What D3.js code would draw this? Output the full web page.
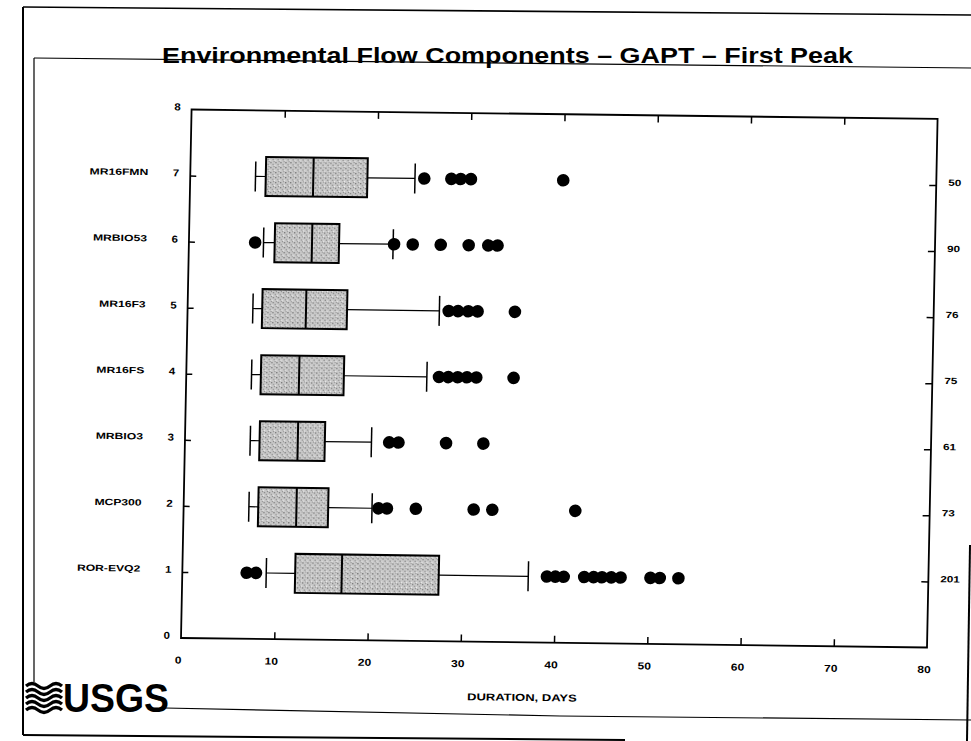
<!DOCTYPE html>
<html>
<head>
<meta charset="utf-8">
<script src="https://cdn.jsdelivr.net/npm/d3@7"></script>
<style>
  html, body { margin: 0; padding: 0; background: #fff; }
  svg { display: block; }
  text { font-family: "Liberation Sans", Arial, Helvetica, sans-serif; fill: #000; }
</style>
</head>
<body>
<svg id="chart" width="971" height="741"></svg>
<script>
// ---------------- data ----------------
const categories = ["ROR-EVQ2", "MCP300", "MRBIO3", "MR16FS", "MR16F3", "MRBIO53", "MR16FMN"];
const counts     = [201, 73, 61, 75, 76, 90, 50];
const whiskerLow = [9, 7, 7, 7, 7, 8, 7];
const q1         = [12.1, 8, 8, 8, 8, 9.2, 8.1];
const medians    = [17.1, 12.1, 12.1, 12.1, 12.7, 13.2, 13.2];
const q3         = [27.5, 15.5, 15, 16.9, 17.1, 16.1, 19];
const whiskerHigh= [37.1, 20.2, 20, 25.8, 27, 21.9, 24.1];
const outliers = [
  [6.9, 7.9, 39.1, 40, 40.9, 43.1, 44.1, 45, 46, 47, 50.2, 51.2, 53.2],
  [20.9, 21.8, 24.9, 31.1, 33.1, 42],
  [21.9, 22.9, 28, 32],
  [27.1, 28.1, 29.1, 30.1, 31.1, 35.1],
  [28, 29, 30.1, 31.1, 35.1],
  [7.1, 22, 24, 27, 30, 32.1, 33.1],
  [25.1, 28, 29, 30.1, 40]
];
const xTickValues = [0, 10, 20, 30, 40, 50, 60, 70, 80];
const yTickValues = [0, 1, 2, 3, 4, 5, 6, 7, 8];
const titleText = "Environmental Flow Components \u2013 GAPT \u2013 First Peak";
const xAxisTitle = "DURATION, DAYS";

// ---------------- drawing ----------------
const svg = d3.select("#chart");
const defs = svg.append("defs");
const pat = defs.append("pattern").attr("id", "stipple")
  .attr("patternUnits", "userSpaceOnUse").attr("width", 5).attr("height", 5);
pat.append("rect").attr("width", 5).attr("height", 5).attr("fill", "#c9c9c9");
pat.append("rect").attr("x", 1).attr("y", 1).attr("width", 1).attr("height", 1).attr("fill", "#444");
pat.append("rect").attr("x", 3).attr("y", 3).attr("width", 1).attr("height", 1).attr("fill", "#6a6a6a");
pat.append("rect").attr("x", 4).attr("y", 0).attr("width", 1).attr("height", 1).attr("fill", "#8a8a8a");
pat.append("rect").attr("x", 0).attr("y", 4).attr("width", 1).attr("height", 1).attr("fill", "#eeeeee");

// page frame lines (scanned slide)
const frame = svg.append("g").attr("fill", "none").attr("stroke", "#000");
frame.append("path").attr("d", "M23,7 L971,15").attr("stroke-width", 1.6);
frame.append("path").attr("d", "M23,7 L23,735").attr("stroke-width", 2);
frame.append("path").attr("d", "M23,735 L625,740").attr("stroke-width", 2);
frame.append("path").attr("d", "M970,545 L967,741").attr("stroke-width", 2);
frame.append("path").attr("d", "M34,58 L971,68").attr("stroke-width", 1.2);
frame.append("path").attr("d", "M34,58 L34,682").attr("stroke-width", 1.2);
frame.append("path").attr("d", "M165,708 L560,716 L971,720").attr("stroke-width", 1.2);

// title
svg.append("text").attr("x", 162).attr("y", 63)
  .attr("font-size", 22).attr("font-weight", "bold")
  .attr("textLength", 691).attr("lengthAdjust", "spacingAndGlyphs")
  .text(titleText);

// USGS logo
const logo = svg.append("g");
const waveYs = [686, 692, 698, 704, 710];
waveYs.forEach(wy => {
  logo.append("path")
    .attr("d", `M26,${wy} q6,-5 12,0 t12,0 t12,0`)
    .attr("fill", "none").attr("stroke", "#000").attr("stroke-width", 3.2);
});
logo.append("text").attr("x", 63).attr("y", 712)
  .attr("font-size", 41).attr("font-weight", "bold")
  .attr("font-family", "'Liberation Sans Narrow', 'Liberation Sans', Arial, sans-serif")
  .attr("textLength", 106).attr("lengthAdjust", "spacingAndGlyphs")
  .text("USGS");

// plot group (scan is slightly rotated)
const plot = svg.append("g").attr("transform", "matrix(1,0.0127,-0.02,1,12.76,-2.3)");

const xScale = d3.scaleLinear().domain([0, 80]).range([181, 927]);
const yScale = d3.scaleLinear().domain([0, 8]).range([638, 109.5]);

// frame of plot
plot.append("rect")
  .attr("x", xScale(0)).attr("y", yScale(8))
  .attr("width", xScale(80) - xScale(0)).attr("height", yScale(0) - yScale(8))
  .attr("fill", "none").attr("stroke", "#000").attr("stroke-width", 1.8);

// bottom axis
const axBottom = plot.append("g").attr("transform", `translate(0,${yScale(0)})`)
  .call(d3.axisBottom(xScale).tickValues(xTickValues).tickSizeInner(-7).tickSizeOuter(0).tickPadding(0));
axBottom.select(".domain").remove();
axBottom.selectAll(".tick line").attr("stroke", "#000").attr("stroke-width", 1.5)
  .filter(d => d === 0 || d === 80).remove();
axBottom.selectAll(".tick text")
  .attr("y", 0).attr("dy", "0.35em")
  .attr("transform", "translate(-3,22) scale(1.2,1)")
  .attr("font-size", 10).attr("font-weight", "bold").attr("fill", "#000");
axBottom.attr("font-family", null).attr("font-size", null);

// top axis ticks
const axTop = plot.append("g").attr("transform", `translate(0,${yScale(8)})`)
  .call(d3.axisTop(xScale).tickValues(xTickValues.filter(d => d > 0 && d < 80)).tickSizeInner(-7).tickSizeOuter(0).tickFormat(""));
axTop.select(".domain").remove();
axTop.selectAll(".tick line").attr("stroke", "#000").attr("stroke-width", 1.5);

// left axis
const axLeft = plot.append("g").attr("transform", `translate(${xScale(0)},0)`)
  .call(d3.axisLeft(yScale).tickValues(yTickValues).tickSizeInner(-6).tickSizeOuter(0).tickPadding(0));
axLeft.select(".domain").remove();
axLeft.selectAll(".tick line").attr("stroke", "#000").attr("stroke-width", 1.5)
  .filter(d => d === 0 || d === 8).remove();
axLeft.selectAll(".tick text")
  .attr("x", 0).attr("dy", "0.35em")
  .attr("transform", "translate(-11,-3) scale(1.15,1)")
  .attr("font-size", 10).attr("font-weight", "bold").attr("fill", "#000");
axLeft.attr("font-family", null).attr("font-size", null);

// right axis with counts
const axRight = plot.append("g").attr("transform", `translate(${xScale(80)},0)`)
  .call(d3.axisRight(yScale).tickValues(d3.range(1, 8)).tickSizeInner(-7).tickSizeOuter(0).tickPadding(0)
    .tickFormat(d => counts[d - 1]));
axRight.select(".domain").remove();
axRight.selectAll(".tick line").attr("stroke", "#000").attr("stroke-width", 1.5);
axRight.selectAll(".tick text")
  .attr("x", 0).attr("dy", "0.35em")
  .attr("transform", "translate(12,-3) scale(1.3,1)")
  .attr("font-size", 9).attr("font-weight", "bold").attr("fill", "#000");
axRight.attr("font-family", null).attr("font-size", null);

// category labels
plot.append("g").selectAll("text").data(categories).join("text")
  .attr("transform", (d, i) => `translate(139,${yScale(i + 1) - 3}) scale(1.35,1)`)
  .attr("dy", "0.35em").attr("text-anchor", "end")
  .attr("font-size", 9).attr("font-weight", "bold")
  .text(d => d);

// x axis title
plot.append("text")
  .attr("transform", `translate(523,693) scale(1.3,1)`)
  .attr("dy", "0.35em").attr("text-anchor", "middle")
  .attr("font-size", 10).attr("font-weight", "bold")
  .text(xAxisTitle);

// box plots
const boxHalf = 19.5, capHalf = 15;
const rows = categories.map((c, i) => ({
  i, pos: i + 1, lo: whiskerLow[i], q1: q1[i], med: medians[i], q3: q3[i], hi: whiskerHigh[i], out: outliers[i]
}));
const bx = plot.append("g").selectAll("g").data(rows).join("g");
// whiskers
bx.append("line").attr("x1", d => xScale(d.lo)).attr("x2", d => xScale(d.q1))
  .attr("y1", d => yScale(d.pos)).attr("y2", d => yScale(d.pos)).attr("stroke", "#000").attr("stroke-width", 1.2);
bx.append("line").attr("x1", d => xScale(d.q3)).attr("x2", d => xScale(d.hi))
  .attr("y1", d => yScale(d.pos)).attr("y2", d => yScale(d.pos)).attr("stroke", "#000").attr("stroke-width", 1.2);
// caps
bx.append("line").attr("x1", d => xScale(d.lo)).attr("x2", d => xScale(d.lo))
  .attr("y1", d => yScale(d.pos) - capHalf).attr("y2", d => yScale(d.pos) + capHalf).attr("stroke", "#000").attr("stroke-width", 1.5);
bx.append("line").attr("x1", d => xScale(d.hi)).attr("x2", d => xScale(d.hi))
  .attr("y1", d => yScale(d.pos) - capHalf).attr("y2", d => yScale(d.pos) + capHalf).attr("stroke", "#000").attr("stroke-width", 1.5);
// box
bx.append("rect").attr("x", d => xScale(d.q1)).attr("width", d => xScale(d.q3) - xScale(d.q1))
  .attr("y", d => yScale(d.pos) - boxHalf).attr("height", boxHalf * 2)
  .attr("fill", "url(#stipple)").attr("stroke", "#000").attr("stroke-width", 2);
// median
bx.append("line").attr("x1", d => xScale(d.med)).attr("x2", d => xScale(d.med))
  .attr("y1", d => yScale(d.pos) - boxHalf).attr("y2", d => yScale(d.pos) + boxHalf)
  .attr("stroke", "#000").attr("stroke-width", 2);
// outliers
bx.selectAll("circle").data(d => d.out.map(v => ({ v, pos: d.pos }))).join("circle")
  .attr("cx", d => xScale(d.v)).attr("cy", d => yScale(d.pos)).attr("r", 6.3).attr("fill", "#000");
</script>
</body>
</html>
